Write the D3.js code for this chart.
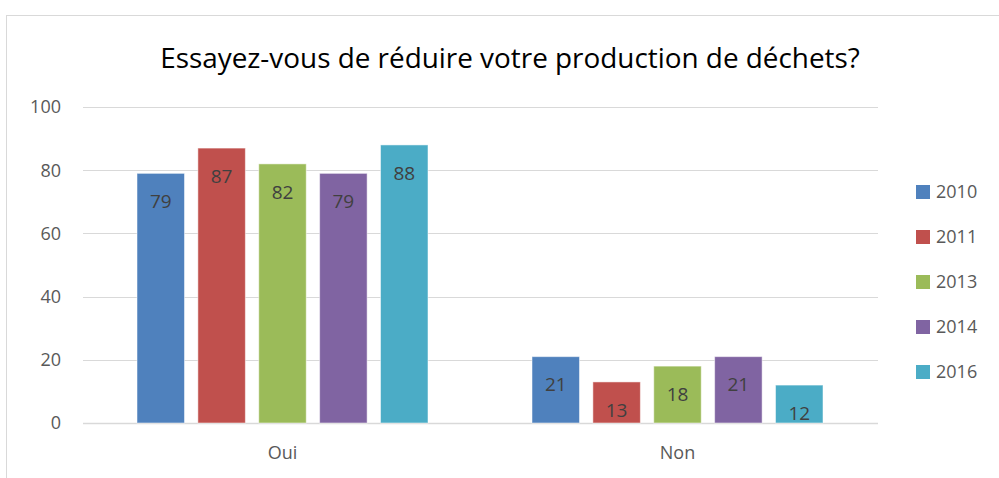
<!DOCTYPE html>
<html>
<head>
<meta charset="utf-8">
<script src="https://cdn.jsdelivr.net/npm/d3@7"></script>
<style>
  body { margin: 0; background: #fff; }
  svg { display: block; font-family: "Open Sans", "Noto Sans", sans-serif; }
</style>
</head>
<body>
<svg id="chart" width="999" height="478"></svg>
<script>
// Chart data
const categories = ['Oui', 'Non'];
const years = ['2010', '2011', '2013', '2014', '2016'];
const oui = [79, 87, 82, 79, 88];
const non = [21, 13, 18, 21, 12];
const yTicks = [0, 20, 40, 60, 80, 100];
const colors = ['#4f81bd', '#c0504d', '#9bbb59', '#8064a2', '#4bacc6'];
const title = 'Essayez-vous de réduire votre production de déchets?';

const seriesByCategory = { Oui: oui, Non: non };

const svg = d3.select('#chart');

// Outer chart frame (cut off at right and bottom)
svg.append('rect')
    .attr('x', 6.5).attr('y', 15.5)
    .attr('width', 1100).attr('height', 600)
    .style('fill', 'none')
    .style('stroke', '#d9d9d9')
    .style('stroke-width', 1);

// Scales
const x0 = d3.scaleBand()
    .domain(categories)
    .range([85, 875]);

const x1 = d3.scaleBand()
    .domain(years)
    .range([52, x0.bandwidth() - 52])
    .paddingInner(0.22)
    .paddingOuter(0);

const y = d3.scaleLinear()
    .domain([0, 100])
    .range([423, 107]);

// Gridlines
svg.append('g')
    .selectAll('line')
    .data(yTicks)
    .enter()
    .append('line')
    .attr('x1', 83).attr('x2', 878)
    .attr('y1', d => Math.round(y(d)) + 0.5)
    .attr('y2', d => Math.round(y(d)) + 0.5)
    .style('stroke', '#d9d9d9')
    .style('stroke-width', d => d === 0 ? 1.5 : 1);

// Y axis labels
svg.append('g')
    .selectAll('text')
    .data(yTicks)
    .enter()
    .append('text')
    .attr('x', 61)
    .attr('y', d => y(d))
    .attr('dy', '0.35em')
    .style('text-anchor', 'end')
    .style('font-size', '18px')
    .style('fill', '#595959')
    .text(d => d);

// Bars
const groups = svg.append('g')
    .selectAll('g')
    .data(categories)
    .enter()
    .append('g')
    .attr('transform', d => `translate(${x0(d)},0)`);

const cells = groups.selectAll('g')
    .data(c => seriesByCategory[c].map((v, i) => ({ year: years[i], value: v, color: colors[i] })))
    .enter()
    .append('g');

cells.append('rect')
    .attr('x', d => x1(d.year))
    .attr('y', d => y(d.value))
    .attr('width', x1.bandwidth())
    .attr('height', d => y(0) - y(d.value))
    .style('fill', d => d.color)
    .style('stroke', '#ffffff')
    .style('stroke-opacity', 0.5)
    .style('stroke-width', 1);

cells.append('text')
    .attr('x', d => x1(d.year) + x1.bandwidth() / 2)
    .attr('y', d => y(d.value) + 28)
    .attr('dy', '0.35em')
    .style('text-anchor', 'middle')
    .style('font-size', '19px')
    .style('fill', '#404040')
    .text(d => d.value);

// Category labels
svg.append('g')
    .selectAll('text')
    .data(categories)
    .enter()
    .append('text')
    .attr('x', d => x0(d) + x0.bandwidth() / 2)
    .attr('y', 453)
    .attr('dy', '0.35em')
    .style('text-anchor', 'middle')
    .style('font-size', '18px')
    .style('fill', '#595959')
    .text(d => d);

// Legend
const legend = svg.append('g')
    .selectAll('g')
    .data(years)
    .enter()
    .append('g')
    .attr('transform', (d, i) => `translate(916,${185 + i * 45})`);

legend.append('rect')
    .attr('width', 14).attr('height', 14)
    .style('fill', (d, i) => colors[i]);

legend.append('text')
    .attr('x', 20)
    .attr('y', 7)
    .attr('dy', '0.35em')
    .style('font-size', '18px')
    .style('fill', '#595959')
    .text(d => d);

// Title, sized to match the original width
const titleText = svg.append('text')
    .attr('x', 510)
    .attr('y', 68)
    .style('text-anchor', 'middle')
    .style('font-size', '24px')
    .style('fill', '#000')
    .text(title);

const w = titleText.node().getComputedTextLength();
titleText.style('font-size', (24 * 700 / w) + 'px');
</script>
</body>
</html>
